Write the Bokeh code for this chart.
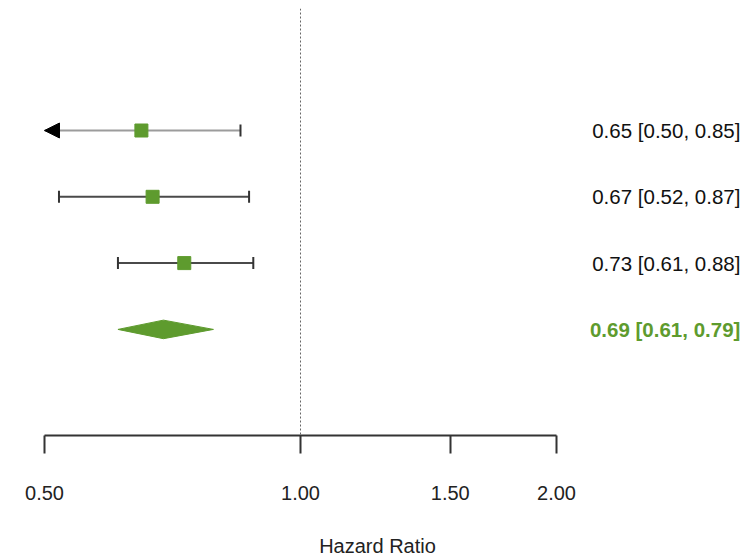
from bokeh.plotting import figure
from bokeh.models import Range1d, FixedTicker, NumeralTickFormatter, Span, Arrow, NormalHead
from bokeh.core.properties import value
from bokeh.embed import file_html
from bokeh.resources import INLINE

# ---- data ----
study_y = [4, 3, 2]
study_hr = [0.65, 0.67, 0.73]
study_lower = [0.50, 0.52, 0.61]
study_upper = [0.85, 0.87, 0.88]
pooled_y = 1
pooled_hr = 0.69
pooled_lower = 0.61
pooled_upper = 0.79
tick_values = [0.5, 1.0, 1.5, 2.0]
ref_value = 1.0
x_label = "Hazard Ratio"

study_text = [f"{h:.2f} [{l:.2f}, {u:.2f}]" for h, l, u in zip(study_hr, study_lower, study_upper)]
pooled_text = f"{pooled_hr:.2f} [{pooled_lower:.2f}, {pooled_upper:.2f}]"

GREEN = "#5e9b2e"
FONT = "Liberation Sans"

p = figure(width=746, height=560, x_axis_type="log",
           x_range=Range1d(0.45357, 3.345), y_range=Range1d(-0.6, 5.84),
           output_backend="svg", toolbar_location=None,
           min_border_left=8, min_border_right=0, min_border_top=8, min_border_bottom=125)
p.outline_line_color = None
p.xgrid.visible = False
p.ygrid.visible = False
p.yaxis.visible = False

# reference line
p.add_layout(Span(location=ref_value, dimension="height", line_color="#666666",
                  line_dash="2 2", line_width=1))

# CI lines
clipped = [l <= tick_values[0] for l in study_lower]
line_colors = ["#9c9c9c" if c else "#4a4a4a" for c in clipped]
p.segment(x0=study_lower, y0=study_y, x1=study_upper, y1=study_y,
          line_color=line_colors, line_width=2)

# caps
cap_x = list(study_upper) + [l for l, c in zip(study_lower, clipped) if not c]
cap_y = list(study_y) + [y for y, c in zip(study_y, clipped) if not c]
p.scatter(x=cap_x, y=cap_y, marker="dash", angle=1.5708, size=12,
          line_color="#333333", line_width=2)

# arrows for clipped
for l, h, y, c in zip(study_lower, study_hr, study_y, clipped):
    if c:
        p.add_layout(Arrow(end=NormalHead(size=15, fill_color="black", line_color="black"),
                           x_start=h, y_start=y, x_end=l, y_end=y, line_alpha=0))

# points
p.scatter(x=study_hr, y=study_y, marker="square", size=13, fill_color=GREEN, line_color=GREEN)

# diamond
dh = 0.14
p.patch(x=[pooled_lower, pooled_hr, pooled_upper, pooled_hr],
        y=[pooled_y, pooled_y + dh, pooled_y, pooled_y - dh],
        fill_color=GREEN, line_color=GREEN)

# text
text_x = 3.29
p.text(x=[text_x] * len(study_y), y=study_y, text=study_text, text_align="right",
       text_baseline="middle", text_font=value(FONT), text_font_size="20.5px", text_color="#111111")
p.text(x=[text_x], y=[pooled_y], text=[pooled_text], text_align="right",
       text_baseline="middle", text_font=value(FONT), text_font_size="20.5px",
       text_font_style="bold", text_color=GREEN)

# axis
ax = p.xaxis[0]
ax.ticker = FixedTicker(ticks=tick_values, minor_ticks=[])
ax.formatter = NumeralTickFormatter(format="0.00")
ax.bounds = (tick_values[0], tick_values[-1])
ax.axis_line_color = "#333333"
ax.axis_line_width = 2
ax.major_tick_line_color = "#333333"
ax.major_tick_line_width = 2
ax.major_tick_in = 0
ax.major_tick_out = 18
ax.minor_tick_line_color = None
ax.major_label_standoff = 32
ax.major_label_text_font = FONT
ax.major_label_text_font_size = "20px"
ax.major_label_text_color = "#222222"
ax.axis_label = x_label
ax.axis_label_standoff = 32
ax.axis_label_text_font = FONT
ax.axis_label_text_font_size = "20px"
ax.axis_label_text_font_style = "normal"
ax.axis_label_text_color = "#222222"

open("out.html", "w").write(file_html(p, INLINE))
